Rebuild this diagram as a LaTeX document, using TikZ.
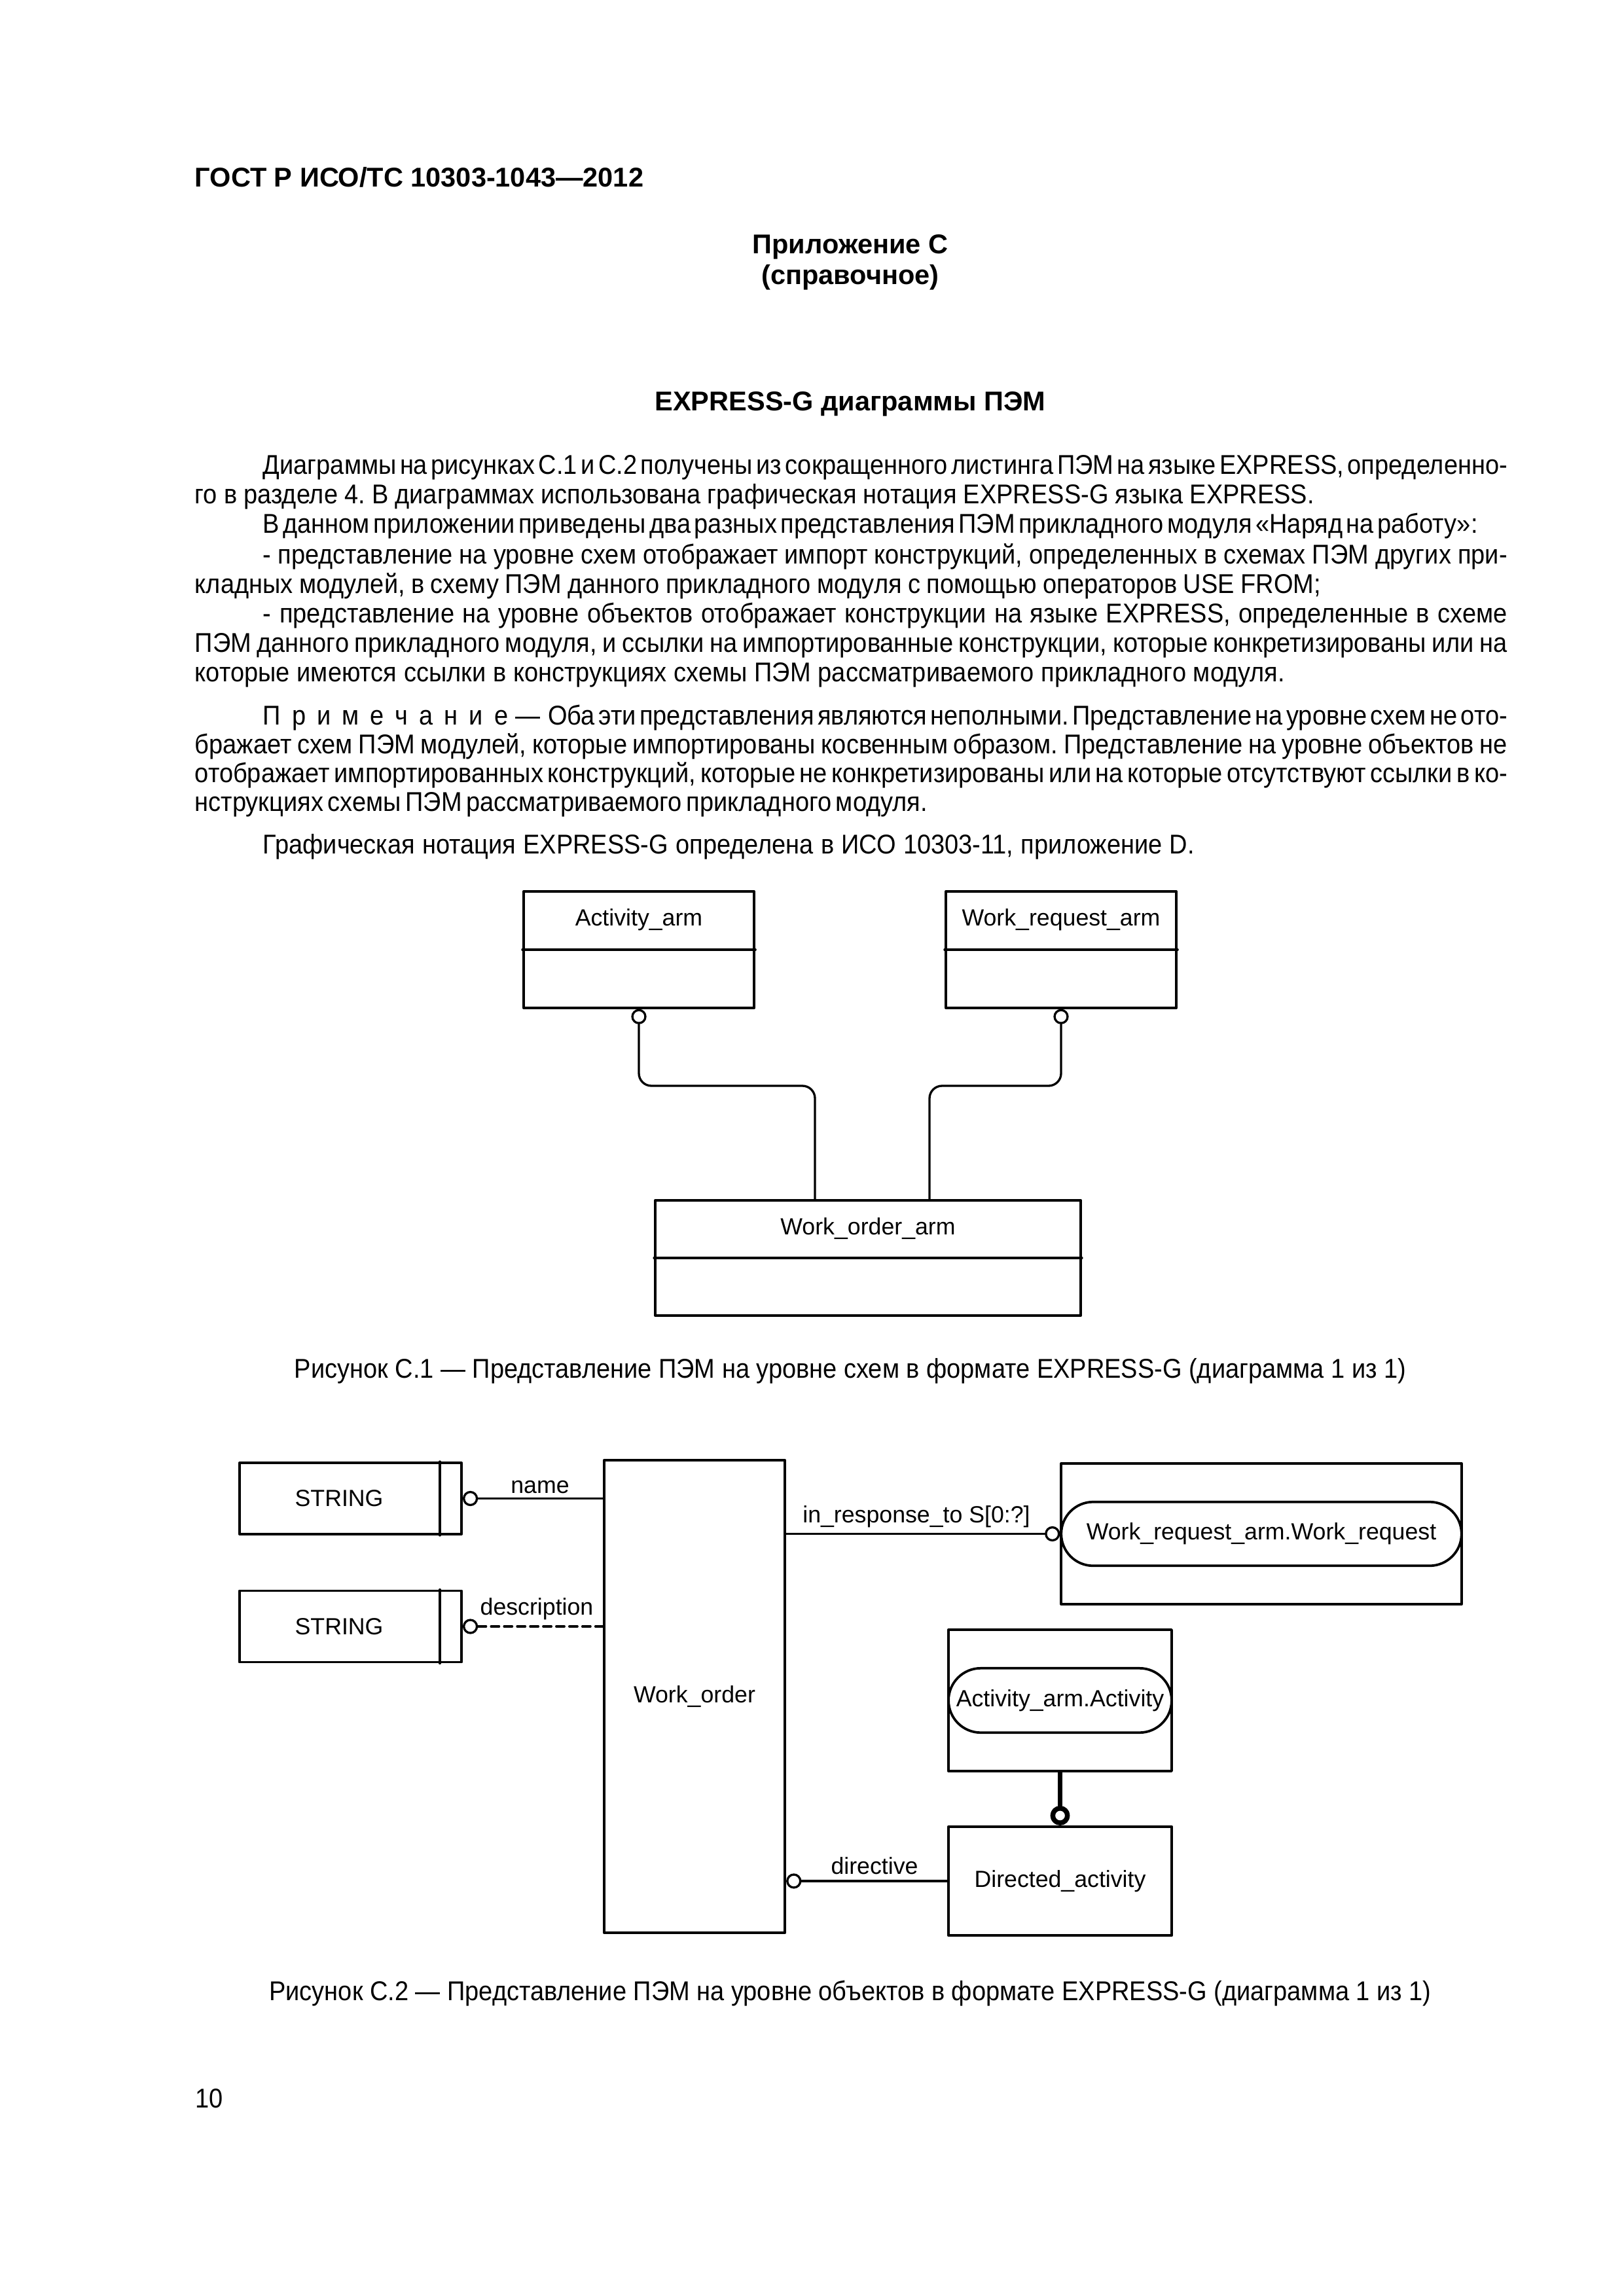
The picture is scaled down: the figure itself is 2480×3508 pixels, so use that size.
\documentclass[tikz,border=0pt]{standalone}
\usepackage{fontspec}
\setmainfont{Liberation Sans}
\newfontfamily\bodyfont{Liberation Sans}[FakeStretch=0.915]
\usetikzlibrary{calc,shapes.misc}
\newdimen\pxu \pxu=0.24088pt
\newcommand{\jline}[2]{{\frenchspacing\spaceskip=2.5pt plus 3pt minus 1.8pt\xspaceskip=\spaceskip\hbox to #1\pxu{#2}}}
\newcommand{\ls}{\kern4.1pt}

\begin{document}
\begin{tikzpicture}[line cap=round,line join=round,x=0.24088pt,y=-0.24088pt,
	txt/.style={anchor=base west,inner sep=0pt,font=\bodyfont\fontsize{10}{12}\selectfont},
	ctr/.style={anchor=base,inner sep=0pt,font=\bodyfont\fontsize{10}{12}\selectfont},
	hdr/.style={anchor=base,inner sep=0pt,font=\fontsize{10}{12}\selectfont\bfseries},
	lbl/.style={inner sep=0pt,font=\fontsize{8.6}{10}\selectfont},
	ent/.style={draw,line width=0.9pt,rectangle,inner sep=0pt,font=\fontsize{8.6}{10}\selectfont},
	pill/.style={draw,line width=0.9pt,rounded rectangle,inner sep=0pt,font=\fontsize{8.6}{10}\selectfont},
	ring/.style={draw,circle,fill=white,line width=0.8pt,inner sep=0pt,minimum size=4.8pt},
	bigring/.style={draw,circle,fill=white,line width=1.8pt,inner sep=0pt,minimum size=5.4pt},
	conn/.style={line width=0.8pt}]
	\useasboundingbox (0,0) rectangle (2480,3508);
	% page text
	\node[anchor=base west,inner sep=0pt,font=\fontsize{10}{12}\selectfont\bfseries] (gost) at (297,286) {ГОСТ Р ИСО/ТС 10303-1043—2012};
	\node[hdr] (app) at (1299,388) {Приложение С};
	\node[hdr] (ref) at (1299,435) {(справочное)};
	\node[hdr] (title) at (1299,628) {EXPRESS-G диаграммы ПЭМ};
	\node[txt] (p1) at (401,725) {\jline{1901}{Диаграммы на рисунках С.1 и С.2 получены из сокращенного листинга ПЭМ на языке EXPRESS, определенно-}};
	\node[txt] (p2) at (297,770) {\jline{1710}{го в разделе 4. В диаграммах использована графическая нотация EXPRESS-G языка EXPRESS.}};
	\node[txt] (p3) at (401,815) {\jline{1856}{В данном приложении приведены два разных представления ПЭМ прикладного модуля «Наряд на работу»:}};
	\node[txt] (p4) at (401,861) {\jline{1901}{- представление на уровне схем отображает импорт конструкций, определенных в схемах ПЭМ других при-}};
	\node[txt] (p5) at (297,906) {\jline{1720}{кладных модулей, в схему ПЭМ данного прикладного модуля с помощью операторов USE FROM;}};
	\node[txt] (p6) at (401,951) {\jline{1901}{- представление на уровне объектов отображает конструкции на языке EXPRESS, определенные в схеме}};
	\node[txt] (p7) at (297,996) {\jline{2005}{ПЭМ данного прикладного модуля, и ссылки на импортированные конструкции, которые конкретизированы или на}};
	\node[txt] (p8) at (297,1041) {\jline{1665}{которые имеются ссылки в конструкциях схемы ПЭМ рассматриваемого прикладного модуля.}};
	\node[txt] (n1) at (401,1107) {\jline{1901}{П\ls р\ls и\ls м\ls е\ls ч\ls а\ls н\ls и\ls е\kern2.8pt—\kern2.8pt Оба эти представления являются неполными. Представление на уровне схем не ото-}};
	\node[txt] (n2) at (297,1151) {\jline{2005}{бражает схем ПЭМ модулей, которые импортированы косвенным образом. Представление на уровне объектов не}};
	\node[txt] (n3) at (297,1195) {\jline{2005}{отображает импортированных конструкций, которые не конкретизированы или на которые отсутствуют ссылки в ко-}};
	\node[txt] (n4) at (297,1239) {\jline{1119}{нструкциях схемы ПЭМ рассматриваемого прикладного модуля.}};
	\node[txt] (p9) at (401,1304) {\jline{1423}{Графическая нотация EXPRESS-G определена в ИСО 10303-11, приложение D.}};
	% figure C.1
	\node[ent,minimum width=84.9pt,minimum height=42.76pt] (actarm) at (976,1451) {};
	\node[ent,minimum width=84.9pt,minimum height=42.76pt] (wrarm) at (1621,1451) {};
	\node[ent,minimum width=156.6pt,minimum height=42.4pt] (woarm) at (1326,1922) {};
	\draw[conn] (actarm.west) -- (actarm.east);
	\draw[conn] (wrarm.west) -- (wrarm.east);
	\draw[conn] (woarm.west) -- (woarm.east);
	\node[lbl] (actarmt) at ($(actarm.north)!0.5!(actarm.center)$) {Activity\_arm};
	\node[lbl] (wrarmt) at ($(wrarm.north)!0.5!(wrarm.center)$) {Work\_request\_arm};
	\node[lbl] (woarmt) at ($(woarm.north)!0.5!(woarm.center)$) {Work\_order\_arm};
	\node[ring,anchor=north] (ua) at (actarm.south) {};
	\node[ring,anchor=north] (uw) at (wrarm.south) {};
	\coordinate (ja) at (1245,1659);
	\coordinate (jw) at (1420,1659);
	\draw[conn,rounded corners=4.6pt] (ua.south) -- (ua.south |- ja) -- (ja) -- (ja |- woarm.north);
	\draw[conn,rounded corners=4.6pt] (uw.south) -- (uw.south |- jw) -- (jw) -- (jw |- woarm.north);
	\node[ctr] (cap1) at (1299,2105) {Рисунок С.1 — Представление ПЭМ на уровне схем в формате EXPRESS-G (диаграмма 1 из 1)};
	% figure C.2
	\node[ent,minimum width=81.7pt,minimum height=26.3pt] (str1) at (535.5,2289.5) {};
	\node[ent,minimum width=81.7pt,minimum height=26.3pt] (str2) at (535.5,2485) {};
	\draw[conn] ([xshift=-8.43pt]str1.north east) -- ([xshift=-8.43pt]str1.south east);
	\draw[conn] ([xshift=-8.43pt]str2.north east) -- ([xshift=-8.43pt]str2.south east);
	\node[lbl] (str1t) at ([xshift=-4.2pt]str1.center) {STRING};
	\node[lbl] (str2t) at ([xshift=-4.2pt]str2.center) {STRING};
	\node[ent,minimum width=66.6pt,minimum height=173.8pt] (wo) at (1061,2592) {Work\_order};
	\node[ent,minimum width=147.3pt,minimum height=51.8pt] (wrbox) at (1927,2343.5) {};
	\node[pill,minimum width=147.3pt,minimum height=23.5pt] (wr) at (wrbox.center) {Work\_request\_arm.Work\_request};
	\node[ent,minimum width=82.1pt,minimum height=52pt] (actbox) at (1619.5,2598) {};
	\node[pill,minimum width=82.1pt,minimum height=23.7pt] (act) at (actbox.center) {Activity\_arm.Activity};
	\node[ent,minimum width=82.1pt,minimum height=40.1pt] (dact) at (1619.5,2874) {Directed\_activity};
	\node[ring,anchor=west] (rname) at (str1.east) {};
	\node[ring,anchor=west] (rdesc) at (str2.east) {};
	\node[ring,anchor=east] (rresp) at (wr.west) {};
	\node[ring,anchor=west] (rdir) at (wo.east |- dact.center) {};
	\node[bigring,anchor=south] (rsub) at (dact.north) {};
	\draw[conn] (rname.east) -- (wo.west |- rname.east);
	\draw[conn,dash pattern=on 3pt off 1.8pt] (rdesc.east) -- (wo.west |- rdesc.east);
	\draw[conn] (wo.east |- rresp.west) -- (rresp.west);
	\draw[conn] (rdir.east) -- (dact.west |- rdir.east);
	\draw[line width=1.8pt] (actbox.south) -- (rsub.north);
	\node[lbl,anchor=base] (lname) at (825,2281) {name};
	\node[lbl,anchor=base] (ldesc) at (820,2467) {description};
	\node[lbl,anchor=base] (lresp) at (1400,2326) {in\_response\_to S[0:?]};
	\node[lbl,anchor=base] (ldir) at (1336,2863) {directive};
	\node[ctr] (cap2) at (1299,3056) {Рисунок С.2 — Представление ПЭМ на уровне объектов в формате EXPRESS-G (диаграмма 1 из 1)};
	\node[txt] (pageno) at (298,3220) {10};
\end{tikzpicture}
\end{document}
